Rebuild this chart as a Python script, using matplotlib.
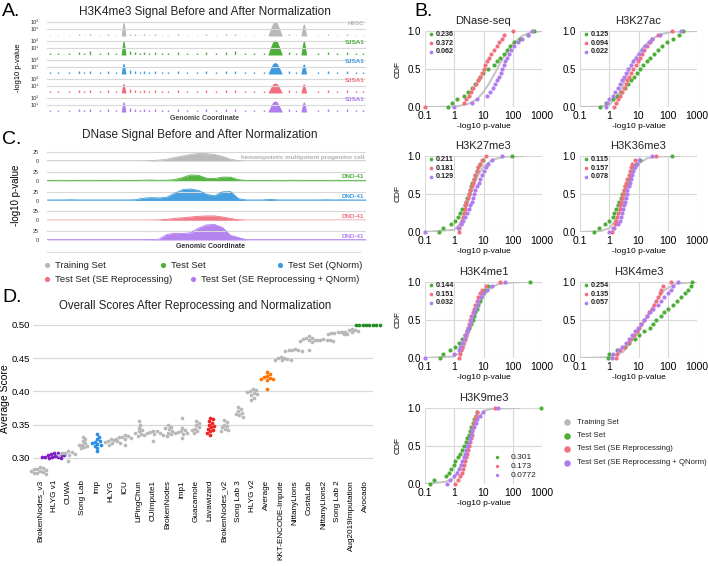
import numpy as np
import matplotlib
matplotlib.use("Agg")
import matplotlib.pyplot as plt

plt.rcParams['font.family'] = ['Liberation Sans', 'DejaVu Sans']

W, H = 708, 566

GRAY = '#B8B8B8'
GREEN = '#4DAF3A'
BLUE = '#3C9BDF'
PINK = '#F2707E'
PURPLE = '#B07CF0'
GRID = '#D8D8D8'

# ---------------- panel A data (H3K4me3 tracks) ----------------
a_labels = ['H9SC', 'SJSA1', 'SJSA1', 'SJSA1', 'SJSA1']
a_colors = [GRAY, GREEN, BLUE, PINK, PURPLE]
peak_pos = [24, 71.5, 80.5]
peak_width = [1.5, 4.5, 1.8]
peak_log10 = [
    [2.0, 2.05, 1.75],   # H9SC
    [2.05, 2.15, 2.0],   # SJSA1 test
    [1.55, 1.65, 1.45],  # QNorm
    [1.4, 1.45, 1.35],   # SE reprocessing
    [1.5, 1.6, 1.45],    # SE + QNorm
]
noise_pos = [1, 3.5, 7, 10, 11.5, 13.5, 16.5, 19, 21.5, 26, 27.5, 29, 30.5, 32, 34, 36, 38, 41,
             44, 47, 50, 53, 56, 59, 62, 65, 68, 76, 78, 85, 88, 91, 94, 97, 99]
noise_log10 = [0.35, 0.25, 0.3, 0.45, 0.3, 0.5, 0.35, 0.4, 0.3, 0.55, 0.4, 0.35, 0.45, 0.3, 0.4, 0.35,
               0.3, 0.4, 0.25, 0.35, 0.45, 0.3, 0.4, 0.5, 0.3, 0.35, 0.3, 0.4, 0.3, 0.35, 0.45, 0.3,
               0.4, 0.3, 0.35]
noise_scale = [0.6, 1.0, 1.0, 1.0, 1.0]

# ---------------- panel C data (DNase tracks) ----------------
c_labels = ['hematopoietic multipotent progenitor cell', 'DND-41', 'DND-41', 'DND-41', 'DND-41']
c_coord = [0, 2.5, 5, 7.5, 10, 12.5, 15, 17.5, 20, 22.5, 25, 27.5, 30, 32.5, 35, 37.5, 40, 42.5, 45,
           47.5, 50, 52.5, 55, 57.5, 60, 62.5, 65, 67.5, 70, 72.5, 75, 77.5, 80, 82.5, 85, 87.5, 90,
           92.5, 95, 97.5, 100]
c_gray = [0.5, 0.5, 0.5, 0.5, 0.5, 0.5, 0.5, 0.5, 0.5, 0.5, 0.5, 0.5, 0.6, 1, 2.5, 5, 10, 14, 18,
          21, 20.5, 18, 13, 5, 1, 0.5, 0.5, 0.5, 0.5, 0.5, 0.5, 0.5, 0.5, 0.5, 0.5, 0.5, 0.5, 0.5,
          0.5, 0.5, 0.5]
c_green = [1, 1, 1.2, 1, 1, 1.3, 1, 1, 1, 1.2, 1, 1, 1.5, 2, 1.2, 1.5, 3, 9, 16, 15, 7, 6, 10, 10,
           3, 1, 1, 1, 1, 1.2, 1, 1.5, 1.2, 1, 1, 1, 1.3, 1, 1, 1.2, 1]
c_blue = [1.5, 1.5, 1.5, 2, 1.5, 1.5, 1.5, 1.5, 1.5, 1.5, 1.5, 2, 6, 8, 7, 9, 20, 30, 32, 28, 17,
          13, 24, 25, 5, 1.5, 1.5, 1.5, 3, 1.5, 1.5, 1.5, 1.5, 1.5, 1.5, 2, 1.5, 2, 1.5, 1.5, 1.5]
c_pink = [0.5, 0.5, 0.5, 0.5, 0.5, 0.5, 0.5, 0.5, 0.5, 0.5, 0.5, 0.5, 0.5, 0.6, 1, 2.5, 5, 7, 9,
          11, 12, 12, 9, 5, 1.5, 0.5, 0.5, 0.5, 0.5, 0.5, 0.5, 0.5, 0.5, 0.5, 0.5, 0.5, 0.5, 0.5,
          0.5, 0.5, 0.5]
c_purple = [1, 1, 1, 1, 1, 1, 1, 1, 1, 1, 1, 1, 1, 1.2, 2, 15, 19, 18, 20, 33, 42, 43, 35, 13, 7,
            1, 1, 1, 1, 1, 1, 1, 1, 1, 1, 1, 1, 1, 1, 1, 1]
c_tracks = [c_gray, c_green, c_blue, c_pink, c_purple]

legend_names = ['Training Set', 'Test Set', 'Test Set (QNorm)',
                'Test Set (SE Reprocessing)', 'Test Set (SE Reprocessing + QNorm)']

# ---------------- panel B data (CDFs, quantiles at 0, 0.05, ..., 1) ----------------
cdf_titles = ['DNase-seq', 'H3K27ac', 'H3K27me3', 'H3K36me3', 'H3K4me1', 'H3K4me3', 'H3K9me3']
cdf_levels = [0, .05, .10, .15, .20, .25, .30, .35, .40, .45, .50, .55, .60, .65, .70, .75, .80,
              .85, .90, .95, 1.0]
train_x = [
    [0.1, 1, 3, 6, 10, 15, 25, 40, 70, 100, 200, 400, 1000],
    [0.1, 0.5, 1, 2, 3, 5, 8, 15, 30, 60, 150, 1000],
    [0.1, 1, 1.5, 2, 3, 4, 6, 10, 20, 50, 230],
    [0.1, 0.5, 1, 2, 3, 4, 6, 10, 20, 50, 250],
    [0.1, 1, 2, 3, 5, 8, 15, 30, 100, 300],
    [0.1, 1, 3, 10, 20, 40, 80, 200, 1000],
    [0.1, 0.5, 1, 2, 3, 4, 6, 10, 20, 160],
]
train_y = [
    [0, 0.003, 0.04, 0.1, 0.2, 0.3, 0.45, 0.6, 0.75, 0.83, 0.93, 0.98, 1.0],
    [0, 0.005, 0.03, 0.15, 0.3, 0.5, 0.65, 0.8, 0.9, 0.96, 0.99, 1.0],
    [0, 0.03, 0.1, 0.2, 0.4, 0.55, 0.72, 0.86, 0.95, 0.99, 1.0],
    [0, 0.01, 0.05, 0.2, 0.4, 0.55, 0.75, 0.9, 0.97, 0.995, 1.0],
    [0, 0.02, 0.1, 0.3, 0.55, 0.75, 0.9, 0.97, 0.995, 1.0],
    [0, 0.01, 0.08, 0.35, 0.55, 0.75, 0.9, 0.98, 1.0],
    [0, 0.03, 0.08, 0.3, 0.5, 0.65, 0.85, 0.96, 0.99, 1.0],
]
test_q = [
    [0.6, 0.85, 1.23, 2.1, 3.0, 4.2, 5.1, 6.3, 7.8, 9.5, 14, 22, 29, 37, 49, 63, 81, 110, 175, 340, 520],
    [0.5, 0.75, 1.35, 1.9, 2.6, 3.4, 4.3, 5.5, 6.9, 8.8, 11, 14.6, 19, 25.5, 33, 45, 64, 93, 155, 240, 330],
    [0.3, 0.4, 0.77, 1.1, 1.3, 1.55, 1.85, 2.25, 2.55, 2.8, 3.1, 3.4, 3.7, 4.1, 4.6, 5.3, 6.0, 6.7, 7.6, 9.3, 95],
    [0.3, 0.45, 0.72, 1.0, 1.3, 1.5, 1.75, 2.0, 2.2, 2.5, 2.8, 3.1, 3.5, 4.0, 4.6, 5.2, 6.0, 7.0, 8.2, 11, 145],
    [0.33, 0.4, 0.7, 1.1, 1.45, 1.85, 2.3, 2.7, 3.3, 3.75, 4.3, 4.8, 5.3, 5.9, 6.5, 7.4, 8.3, 9.4, 11, 14, 380],
    [0.9, 1.0, 1.9, 3.5, 4.8, 7.5, 10.5, 15.5, 24, 32, 41, 57, 77, 105, 150, 210, 290, 390, 500, 620, 700],
    [0.15, 0.2, 0.53, 0.64, 0.8, 0.95, 1.1, 1.3, 1.55, 1.85, 2.15, 2.45, 2.75, 3.1, 3.5, 3.8, 4.3, 4.9, 5.4, 6.2, 900],
]
se_q = [
    [0.1, 2.2, 2.6, 3.1, 3.7, 4.5, 5.4, 6.4, 7.4, 8.6, 10, 11.6, 13.3, 15.5, 18.5, 23, 28, 34, 42, 52, 100],
    [1.5, 1.65, 2.0, 2.33, 2.7, 3.1, 3.6, 4.2, 4.9, 5.6, 6.6, 7.9, 9.3, 11, 13.3, 16, 19, 23.8, 30, 46, 140],
    [1.4, 1.5, 1.65, 1.8, 1.95, 2.1, 2.25, 2.4, 2.6, 2.85, 3.2, 3.5, 3.9, 4.3, 4.8, 5.3, 5.9, 6.6, 7.4, 9, 12],
    [1.25, 1.4, 1.6, 1.75, 1.9, 2.05, 2.25, 2.4, 2.6, 2.8, 3.0, 3.25, 3.5, 3.8, 4.2, 4.6, 5.1, 5.6, 6.2, 7.5, 39],
    [1.45, 1.55, 1.7, 1.85, 2.05, 2.25, 2.45, 2.65, 2.85, 3.15, 3.5, 3.85, 4.25, 4.7, 5.2, 5.8, 6.5, 7.5, 9, 12, 38],
    [1.7, 1.8, 2.3, 3.2, 4.3, 5.5, 7.0, 8.6, 10.5, 12.5, 15.5, 19, 23, 28.5, 35, 40, 46, 53, 60, 68, 130],
    [1.05, 1.35, 1.6, 1.8, 1.95, 2.15, 2.35, 2.55, 2.75, 2.95, 3.2, 3.45, 3.7, 4.0, 4.2, 4.4, 4.65, 5.0, 5.4, 6.0, 25],
]
seq_q = [
    [1.0, 4.2, 6.0, 13, 16.5, 21, 25, 29.5, 34, 39, 44.5, 50.5, 56, 63, 73, 87, 107, 147, 205, 330, 450],
    [0.8, 0.85, 0.95, 1.3, 1.6, 1.95, 2.35, 2.8, 3.3, 3.83, 4.5, 5.4, 6.5, 8.4, 10.6, 13.5, 17, 22.5, 30, 53, 290],
    [0.1, 1.3, 1.65, 2.0, 2.4, 2.75, 3.1, 3.5, 3.9, 4.3, 4.7, 5.2, 6.0, 6.8, 7.8, 9.0, 10.3, 12, 14.5, 19, 43],
    [1.0, 1.3, 2.0, 2.25, 2.5, 2.8, 3.0, 3.2, 3.4, 3.7, 3.95, 4.2, 4.6, 5.1, 5.5, 6.1, 6.7, 7.4, 8.7, 10.5, 30],
    [0.1, 1.0, 1.45, 1.6, 1.8, 2.1, 2.4, 2.7, 3.0, 3.4, 3.8, 4.2, 4.7, 5.3, 5.9, 6.7, 8.0, 9.6, 13, 20, 54],
    [1.2, 1.3, 2.0, 2.8, 3.7, 4.6, 5.9, 7.5, 9.6, 12.4, 16, 20, 25, 32, 45, 58, 75, 100, 125, 155, 220],
    [0.55, 0.7, 0.95, 1.2, 1.45, 1.7, 1.9, 2.15, 2.35, 2.6, 2.8, 3.1, 3.45, 3.8, 4.2, 4.75, 5.4, 6.2, 7.4, 9.8, 32],
]
cdf_stats = [
    ['0.236', '0.372', '0.062'],
    ['0.125', '0.094', '0.022'],
    ['0.211', '0.181', '0.129'],
    ['0.115', '0.157', '0.078'],
    ['0.144', '0.151', '0.032'],
    ['0.254', '0.135', '0.057'],
    ['0.301', '0.173', '0.0772'],
]

# ---------------- panel D data (overall scores) ----------------
teams = ['BrokenNodes_v3', 'HLYG v1', 'CUWA', 'Song Lab', 'imp', 'HLYG', 'ICU', 'LiPingChun',
         'CUImpute1', 'BrokenNodes', 'imp1', 'Guacamole', 'Lavawizard', 'BrokenNodes_v2',
         'Song Lab 3', 'HLYG v2', 'Average', 'KKT-ENCODE-Impute', 'NittanyLions', 'CostaLab',
         'NittanyLions2', 'Song Lab 2', 'Aug2019Imputation', 'Avocado']
scores = [
    [0.287, 0.285, 0.284, 0.283, 0.282, 0.281, 0.280, 0.279, 0.278, 0.277, 0.276],
    [0.308, 0.307, 0.306, 0.305, 0.305, 0.304, 0.303, 0.302, 0.302, 0.301, 0.301, 0.300, 0.300],
    [0.310, 0.309, 0.308, 0.307, 0.306, 0.305, 0.304, 0.296],
    [0.331, 0.328, 0.325, 0.322, 0.320, 0.319, 0.318, 0.316, 0.315],
    [0.336, 0.332, 0.328, 0.325, 0.324, 0.322, 0.321, 0.320, 0.318, 0.315, 0.310],
    [0.328, 0.327, 0.326, 0.325, 0.324, 0.323, 0.322, 0.320],
    [0.335, 0.333, 0.332, 0.331, 0.330, 0.329, 0.328, 0.320],
    [0.355, 0.350, 0.345, 0.342, 0.340, 0.338, 0.336, 0.335, 0.333],
    [0.341, 0.340, 0.339, 0.338, 0.337, 0.336, 0.335, 0.325],
    [0.349, 0.347, 0.345, 0.343, 0.341, 0.338, 0.336, 0.333],
    [0.360, 0.345, 0.342, 0.340, 0.339, 0.338, 0.337, 0.336, 0.330],
    [0.355, 0.352, 0.349, 0.346, 0.344, 0.342, 0.340, 0.338],
    [0.360, 0.358, 0.355, 0.352, 0.350, 0.348, 0.346, 0.344, 0.342, 0.340, 0.338, 0.335],
    [0.357, 0.354, 0.350, 0.348, 0.346, 0.344, 0.342, 0.341],
    [0.377, 0.374, 0.370, 0.368, 0.366, 0.364, 0.362],
    [0.404, 0.402, 0.400, 0.399, 0.398, 0.396, 0.394, 0.390, 0.387],
    [0.429, 0.426, 0.423, 0.421, 0.420, 0.419, 0.418, 0.417, 0.404],
    [0.452, 0.451, 0.450, 0.449, 0.448, 0.447, 0.447],
    [0.464, 0.463, 0.462, 0.462, 0.461, 0.461],
    [0.483, 0.481, 0.480, 0.479, 0.478, 0.477, 0.476, 0.475, 0.462],
    [0.479, 0.478, 0.478, 0.477, 0.477, 0.476],
    [0.490, 0.489, 0.488, 0.488, 0.487, 0.487, 0.486],
    [0.494, 0.493, 0.492, 0.491, 0.490, 0.490, 0.489],
    [0.500, 0.500, 0.500, 0.500, 0.500, 0.500, 0.500, 0.500],
]
highlight = {'HLYG v1': '#7F1DC9', 'imp': '#2A8DE8', 'Lavawizard': '#F02222',
             'Average': '#FF7400', 'Avocado': '#1E8C1E'}


fig = plt.figure(figsize=(W / 100, H / 100), dpi=100)


def add_px(x0, y0, x1, y1):
    # axes from pixel box (top-left origin)
    return fig.add_axes([x0 / W, 1 - y1 / H, (x1 - x0) / W, (y1 - y0) / H])


def clean(ax):
    for s in ax.spines.values():
        s.set_visible(False)
    ax.tick_params(length=0)


# overlay for panel letters and hand-placed legends
ov = fig.add_axes([0, 0, 1, 1])
ov.set_xlim(0, W)
ov.set_ylim(H, 0)
ov.axis('off')
ov.set_zorder(10)

for lab, x, y in [('A.', 2, 3), ('B.', 414, 3), ('C.', 2, 131), ('D.', 2, 289)]:
    ov.text(x, y, lab, fontsize=14, va='top', ha='left')

# ---------- panel A ----------
ov.text(205, 12, 'H3K4me3 Signal Before and After Normalization', fontsize=8.5,
        ha='center', va='center', color='#222222')
ov.text(18, 68, '-log10 p-value', fontsize=5.5, rotation=90, ha='center', va='center')
ov.text(205, 119, 'Genomic Coordinate', fontsize=5, ha='center', va='center', weight='bold',
        color='#444444')
for i in range(5):
    ax = add_px(47, 19.9 + 19 * i, 366, 36 + 19 * i)
    ax.set_yscale('log')
    ax.set_ylim(1, 10 ** 2.3)
    ax.set_xlim(0, 100)
    clean(ax)
    ax.set_xticks([])
    ax.set_yticks([10, 100])
    ax.set_yticklabels(['10\u00b9', '10\u00b2'], fontsize=4, color='#333333')
    ax.yaxis.set_minor_locator(matplotlib.ticker.NullLocator())
    ax.tick_params(pad=6)
    ax.grid(axis='y', color=GRID, lw=0.8)
    col = a_colors[i]
    for c, w, h in zip(peak_pos, peak_width, peak_log10[i]):
        rel_x = np.array([-0.5, -0.3, -0.15, 0, 0.15, 0.3, 0.5]) * w
        rel_h = np.array([0, 0.55, 0.9, 1, 0.9, 0.55, 0])
        ax.fill_between(c + rel_x, 1, 10 ** (h * rel_h), color=col, lw=0)
    nl = np.array(noise_log10) * noise_scale[i]
    ax.vlines(noise_pos, 1, 10 ** nl, color=col, lw=1.0)
    ax.text(0.995, 10 ** 1.75, a_labels[i], transform=ax.get_yaxis_transform(), ha='right',
            va='center', fontsize=4.5, weight='bold', color=col)

# ---------- panel C ----------
ov.text(200, 135, 'DNase Signal Before and After Normalization', fontsize=8.5,
        ha='center', va='center', color='#222222')
ov.text(16, 195, '-log10 p-value', fontsize=7, rotation=90, ha='center', va='center')
ov.text(210, 246, 'Genomic Coordinate', fontsize=5, ha='center', va='center', weight='bold',
        color='#333333')
ov.plot([47, 360], [252, 252], color='#DDDDDD', lw=0.8)
for i in range(5):
    base = 161 + 19.75 * i
    ax = add_px(47, base - 18, 366, base)
    ax.set_ylim(0, 50)
    ax.set_xlim(0, 100)
    clean(ax)
    ax.set_xticks([])
    ax.set_yticks([0, 25])
    ax.set_yticklabels(['0', '25'], fontsize=4, color='#333333')
    ax.tick_params(pad=6)
    ax.grid(axis='y', color=GRID, lw=0.8)
    ax.fill_between(c_coord, 0, c_tracks[i], color=a_colors[i], lw=0, alpha=0.95)
    ax.plot(c_coord, c_tracks[i], color=a_colors[i], lw=0.6)
    ax.text(0.995, 11, c_labels[i], transform=ax.get_yaxis_transform(), ha='right', va='center',
            fontsize=4.5, weight='bold', color=a_colors[i] if i else '#B0B0B0')

# ---------- middle legend ----------
leg_cols = [GRAY, GREEN, BLUE, PINK, PURPLE]
leg_xy = [(47, 265), (163, 265), (280, 265), (47, 279), (193, 279)]
for (x, y), col, name in zip(leg_xy, leg_cols, legend_names):
    ov.scatter([x], [y], s=14, color=col, lw=0)
    ov.text(x + 8, y, name, fontsize=6.8, va='center', ha='left', color='#222222')

# ---------- panel B ----------
col_x = [425, 580]
row_y = [31, 156, 282, 408]
for k, title in enumerate(cdf_titles):
    r, c = divmod(k, 2)
    x0, y0 = col_x[c], row_y[r]
    ax = add_px(x0, y0, x0 + 117, y0 + 76)
    ax.set_xscale('log')
    ax.set_xlim(0.1, 1000)
    ax.set_ylim(0, 1)
    clean(ax)
    ax.grid(True, color=GRID, lw=0.8)
    ax.xaxis.set_minor_locator(matplotlib.ticker.NullLocator())
    ax.set_xticks([0.1, 1, 10, 100, 1000])
    ax.set_xticklabels(['0.1', '1', '10', '100', '1000'], fontsize=7.5)
    ax.set_yticks([0, 0.5, 1.0])
    ax.set_yticklabels(['0.0', '0.5', '1.0'], fontsize=7)
    ax.tick_params(pad=3)
    ax.set_title(title, fontsize=8, pad=5, color='#222222')
    ax.set_xlabel('-log10 p-value', fontsize=6, labelpad=1)
    if c == 0:
        ax.set_ylabel('CDF', fontsize=6, labelpad=4)
    ax.plot(train_x[k], train_y[k], color='#C4C4C4', lw=1.4, zorder=2)
    for q, col in [(test_q[k], GREEN), (se_q[k], PINK), (seq_q[k], PURPLE)]:
        ax.scatter(q, cdf_levels, s=9, color=col, lw=0, zorder=3, clip_on=False)
    if k < 6:
        for j, col in enumerate([GREEN, PINK, PURPLE]):
            yy = 0.955 - j * 0.115
            ax.scatter([0.05], [yy], s=7, color=col, lw=0, transform=ax.transAxes, zorder=4)
            ax.text(0.09, yy, cdf_stats[k][j], transform=ax.transAxes, fontsize=5.2,
                    weight='bold', va='center', color='#222222')
    else:
        for j, col in enumerate([GREEN, PINK, PURPLE]):
            yy = 0.355 - j * 0.12
            ax.scatter([0.615], [yy], s=6, color=col, lw=0, transform=ax.transAxes, zorder=4)
            ax.text(0.73, yy, cdf_stats[k][j], transform=ax.transAxes, fontsize=6,
                    va='center', color='#222222')

b_leg = [(GRAY, legend_names[0]), (GREEN, legend_names[1]), (PINK, legend_names[3]),
         (PURPLE, legend_names[4])]
for j, (col, name) in enumerate(b_leg):
    y = 422 + j * 13.5
    ov.scatter([567], [y], s=22, color=col, lw=0)
    ov.text(577, y, name, fontsize=5.6, va='center', ha='left', color='#222222')

# ---------- panel D ----------
ov.text(195, 306, 'Overall Scores After Reprocessing and Normalization', fontsize=8.3,
        ha='center', va='center', color='#222222')
axd = add_px(33, 323, 373, 474.5)
axd.set_ylim(0.275, 0.503)
axd.set_xlim(-0.5, len(teams) - 0.5)
clean(axd)
axd.grid(axis='y', color=GRID, lw=0.9)
axd.set_axisbelow(True)
axd.set_yticks([0.30, 0.35, 0.40, 0.45, 0.50])
axd.set_yticklabels(['0.30', '0.35', '0.40', '0.45', '0.50'], fontsize=6.8)
axd.tick_params(axis='y', pad=2)
axd.set_ylabel('Average Score', fontsize=7.5, labelpad=1)
axd.set_xticks(range(len(teams)))
axd.set_xticklabels(teams, rotation=90, fontsize=5.9)
axd.tick_params(axis='x', pad=4)

ppu_y = 151.5 / (0.503 - 0.275)
ppu_x = 340 / len(teams)
dot = 3.4


def swarm(vals):
    placed = []
    offs = []
    for v in sorted(vals, reverse=True):
        y = v * ppu_y
        cands = [0.0]
        for py, px in placed:
            dy = y - py
            if abs(dy) < dot:
                dx = np.sqrt(dot * dot - dy * dy)
                cands += [px + dx, px - dx]
        cands.sort(key=abs)
        for cx in cands:
            if all((cx - px) ** 2 + (y - py) ** 2 >= dot * dot - 1e-6 for py, px in placed):
                break
        placed.append((y, cx))
        offs.append((v, cx / ppu_x))
    return offs


for i, (team, vals) in enumerate(zip(teams, scores)):
    pts = swarm(vals)
    xs = [i + o for v, o in pts]
    ys = [v for v, o in pts]
    axd.scatter(xs, ys, s=7, color=highlight.get(team, '#B8B8B8'), lw=0, zorder=3,
                clip_on=False)

fig.savefig('out.png', dpi=100)
